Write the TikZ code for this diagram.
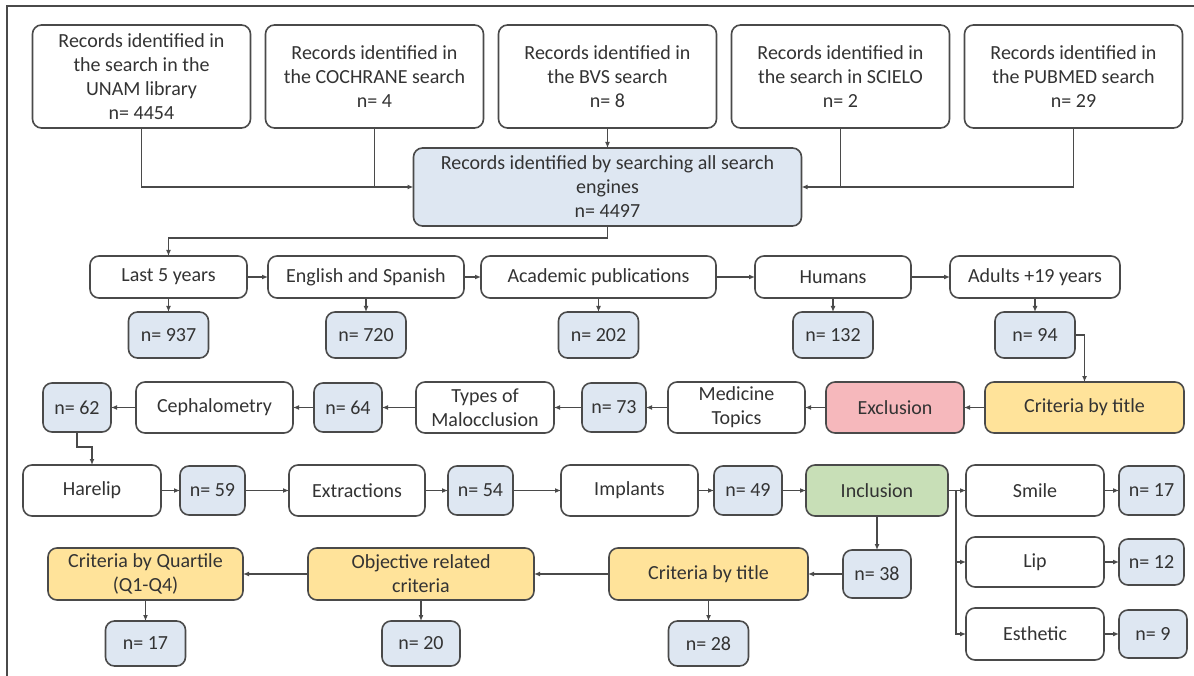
\documentclass[tikz,border=0pt]{standalone}
\usepackage{fontspec}
\setmainfont{Carlito}
\usepackage{xcolor}
\usepackage{tikz}
\usetikzlibrary{shapes, arrows.meta, positioning, calc}

\definecolor{lineGray}{HTML}{4A4A4A}
\definecolor{textGray}{HTML}{333333}
\definecolor{countBlue}{HTML}{DEE7F2}
\definecolor{critYellow}{HTML}{FFE39A}
\definecolor{exclPink}{HTML}{F6B8BC}
\definecolor{inclGreen}{HTML}{C8DFB7}

\tikzset{
    box/.style={draw=lineGray, line width=1.6pt, rounded corners=9pt, fill=white, align=center,
        text=textGray, inner sep=0pt, outer sep=0pt, font=\fontsize{20}{24}\selectfont},
    src/.style={box, minimum width=218pt, minimum height=103pt},
    stage/.style={box, minimum height=42pt},
    filt/.style={box, minimum height=51pt},
    count/.style={box, fill=countBlue, minimum width=80pt, minimum height=46pt},
    crit/.style={box, fill=critYellow, minimum height=52pt},
    arr/.style={draw=lineGray, line width=1.5pt, -{Latex[length=6pt,width=5pt]}},
    link/.style={draw=lineGray, line width=1.5pt},
}

\begin{document}
\begin{tikzpicture}[x=1pt, y=-1pt]
    \useasboundingbox (0,0) rectangle (1194,676);
    \draw[lineGray, line width=1.5pt] (7,676) -- (7,6) -- (1194,6);

    \node[src] (unam) at (141.5,76.5) {Records identified in\\the search in the\\UNAM library\\n= 4454};
    \node[src, right=15pt of unam] (cochrane) {Records identified in\\the COCHRANE search\\n= 4};
    \node[src, right=15pt of cochrane] (bvs) {Records identified in\\the BVS search\\n= 8};
    \node[src, right=15pt of bvs] (scielo) {Records identified in\\the search in SCIELO\\n= 2};
    \node[src, right=15pt of scielo] (pubmed) {Records identified in\\the PUBMED search\\n= 29};
    \node[box, fill=countBlue, minimum width=388pt, minimum height=78pt, below=20pt of bvs] (all)
        {Records identified by searching all search\\engines\\n= 4497};

    \node[stage, minimum width=157pt] (last) at (168.5,277) {Last 5 years};
    \node[stage, minimum width=196pt, right=21pt of last] (lang) {English and Spanish};
    \node[stage, minimum width=235pt, right=17pt of lang] (acad) {Academic publications};
    \node[stage, minimum width=156pt, right=39pt of acad] (hum) {Humans};
    \node[stage, minimum width=170pt, right=39pt of hum] (adult) {Adults +19 years};
    \node[count, below=14pt of last] (n937) {n= 937};
    \node[count, below=14pt of lang] (n720) {n= 720};
    \node[count, below=14pt of acad] (n202) {n= 202};
    \node[count, below=14pt of hum] (n132) {n= 132};
    \node[count, below=14pt of adult] (n94) {n= 94};

    \node[count, minimum width=68pt, minimum height=49pt] (n62) at (77,407.5) {n= 62};
    \node[filt, minimum width=157pt, right=25pt of n62] (ceph) {Cephalometry};
    \node[count, minimum width=68pt, minimum height=49pt, right=21pt of ceph] (n64) {n= 64};
    \node[filt, minimum width=138pt, right=34pt of n64] (types) {Types of\\Malocclusion};
    \node[count, minimum width=64pt, minimum height=49pt, right=28pt of types] (n73) {n= 73};
    \node[filt, minimum width=137pt, right=22pt of n73] (med) {Medicine\\Topics};
    \node[filt, fill=exclPink, minimum width=138pt, right=21pt of med] (excl) {Exclusion};
    \node[crit, minimum width=199pt, minimum height=51pt, right=21pt of excl] (title) {Criteria by title};

    \node[filt, minimum width=138pt] (hare) at (92,490.5) {Harelip};
    \node[count, minimum width=65pt, minimum height=49pt, right=19pt of hare] (n59) {n= 59};
    \node[filt, minimum width=136pt, right=44pt of n59] (extr) {Extractions};
    \node[count, minimum width=65pt, minimum height=49pt, right=23pt of extr] (n54) {n= 54};
    \node[filt, minimum width=137pt, right=48pt of n54] (impl) {Implants};
    \node[count, minimum width=68pt, minimum height=49pt, right=16pt of impl] (n49) {n= 49};
    \node[filt, fill=inclGreen, minimum width=142pt, right=24pt of n49] (incl) {Inclusion};
    \node[filt, minimum width=138pt, right=18pt of incl] (smile) {Smile};
    \node[count, minimum width=65pt, minimum height=49pt, right=15pt of smile] (n17b) {n= 17};
    \node[filt, minimum width=138pt, minimum height=50pt, below=21pt of smile] (lip) {Lip};
    \node[count, minimum width=65pt, minimum height=46pt, right=15pt of lip] (n12) {n= 12};
    \node[filt, minimum width=138pt, minimum height=52pt, below=21pt of lip] (esth) {Esthetic};
    \node[count, minimum width=68pt, minimum height=48pt, right=15pt of esth] (n9) {n= 9};

    \node[count, minimum width=68pt, minimum height=48pt, below=34pt of incl] (n38) {n= 38};
    \node[crit, minimum width=199pt, left=35pt of n38] (title2) {Criteria by title};
    \node[crit, minimum width=226pt, left=75pt of title2] (obj) {Objective related\\criteria};
    \node[crit, minimum width=195pt, left=65pt of obj] (quart) {Criteria by Quartile\\(Q1-Q4)};
    \node[count, minimum height=45pt, below=21pt of quart] (n17a) {n= 17};
    \node[count, minimum width=78pt, minimum height=45pt, below=21pt of obj] (n20) {n= 20};
    \node[count, minimum height=45pt, below=21pt of title2] (n28) {n= 28};

    \draw[arr] (unam) |- (all);
    \draw[link] (cochrane) -- (cochrane |- all);
    \draw[arr] (bvs) -- (all);
    \draw[link] (scielo) -- (scielo |- all);
    \draw[arr] (pubmed) |- (all);
    \draw[arr] (all.south) -- ++(0,12) -| (last);

    \foreach \a/\b in {last/lang, lang/acad, acad/hum, hum/adult,
                       last/n937, lang/n720, acad/n202, hum/n132, adult/n94} {
        \draw[arr] (\a) -- (\b);
    }
    \draw[arr] (n94) -| (title);

    \foreach \a/\b in {title/excl, excl/med, med/n73, n73/types, types/n64, n64/ceph, ceph/n62} {
        \draw[arr] (\a) -- (\b);
    }
    \draw[arr] (n62.south) -- ++(0,15) -| (hare);

    \foreach \a/\b in {hare/n59, n59/extr, extr/n54, n54/impl, impl/n49, n49/incl,
                       smile/n17b, lip/n12, esth/n9} {
        \draw[arr] (\a) -- (\b);
    }
    \draw[link] (incl.east) -- ++(8,0) coordinate (trunk);
    \draw[arr] (trunk) -- (smile);
    \draw[arr] (trunk) |- (lip);
    \draw[arr] (trunk) |- (esth);

    \foreach \a/\b in {incl/n38, n38/title2, title2/obj, obj/quart,
                       quart/n17a, obj/n20, title2/n28} {
        \draw[arr] (\a) -- (\b);
    }
\end{tikzpicture}
\end{document}
